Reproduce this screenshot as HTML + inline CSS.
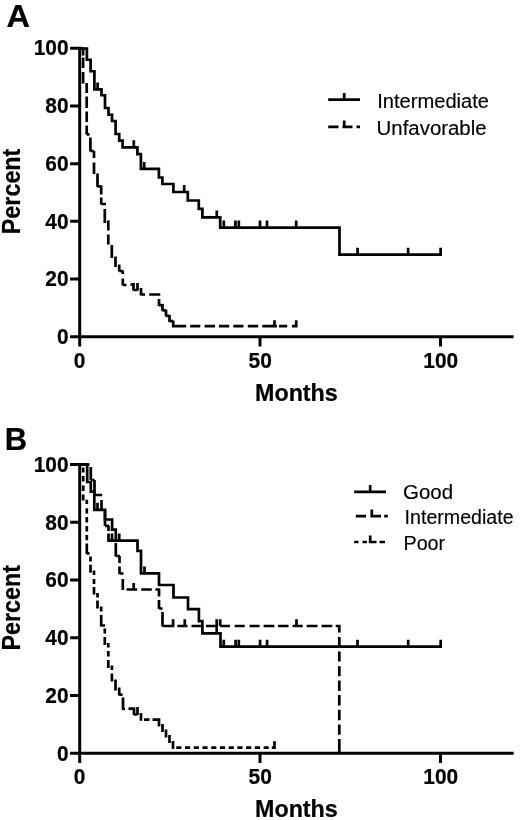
<!DOCTYPE html>
<html><head><meta charset="utf-8"><title>Survival curves</title>
<style>
html,body{margin:0;padding:0;background:#fff;}
body{width:520px;height:820px;overflow:hidden;font-family:"Liberation Sans", sans-serif;}
svg{display:block;font-family:"Liberation Sans", sans-serif;filter:grayscale(1) blur(0.35px);}
</style></head><body>
<svg width="520" height="820" viewBox="0 0 520 820">
<rect width="520" height="820" fill="#fff"/>
<path d="M79.70 46.80V346.40M70.10 336.70H513.60M70.10 48.30H79.70M70.10 106.00H79.70M70.10 163.70H79.70M70.10 221.30H79.70M70.10 279.00H79.70M260.00 336.70V346.40M440.50 336.70V346.40" stroke="#000" stroke-width="3.00" fill="none" />
<path d="M80.00 48.50L86.90 48.50L86.90 59.75L90.60 59.75L90.60 71.25L94.40 71.25L94.40 89.40L101.50 89.40L101.50 95.25L105.00 95.25L105.00 108.00L108.50 108.00L108.50 114.75L112.00 114.75L112.00 121.00L115.60 121.00L115.60 134.00L119.20 134.00L119.20 140.60L122.60 140.60L122.60 147.30L137.40 147.30L137.40 154.20L140.90 154.20L140.90 168.90L158.90 168.90L158.90 177.50L162.40 177.50L162.40 184.00L173.40 184.00L173.40 192.00L187.80 192.00L187.80 200.50L198.80 200.50L198.80 208.80L202.40 208.80L202.40 217.40L220.20 217.40L220.20 227.60L339.50 227.60L339.50 254.70L440.60 254.70V247.7M97.60 89.40V82.40M133.80 147.30V140.30M144.20 168.90V161.90M184.20 192.00V185.00M216.80 217.40V210.40M223.80 227.60V220.60M235.40 227.60V220.60M238.80 227.60V220.60M260.00 227.60V220.60M267.00 227.60V220.60M296.20 227.60V220.60M357.60 254.70V247.70M408.10 254.70V247.70" stroke="#000" stroke-width="2.70" fill="none" />
<path d="M83.10 48.50V55.50M83.10 57.50V68.00M83.10 72.00V83.50M86.70 83.00V93.00M86.70 96.50V108.00M86.70 111.50V122.00M86.70 125.50V134.50M90.40 137.50V151.50M94.00 151.00V158.00M94.00 162.50V174.00M97.50 173.50V187.00M101.20 185.50V194.50M101.20 197.50V204.50M104.80 209.00V223.00M108.30 220.50V230.50M108.30 234.50V244.50M111.80 245.00V258.00M115.50 256.50V267.00M119.20 264.50V271.50M122.80 271.00V274.00M122.80 278.50V285.50M133.50 283.00V290.50M137.50 283.00V290.50M141.00 288.00V295.50M159.00 299.00V306.00M162.50 304.00V311.00M166.00 309.50V316.50M169.50 315.00V322.00M173.20 320.50V327.50M274.50 320.20V327.50M296.20 320.20V327.50M80.00 48.50H84.40M86.70 134.40H89.50M90.40 151.00H94.00M97.50 186.30H101.20M101.20 204.00H106.00M119.20 271.00H123.50M122.80 285.00H126.50M130.50 284.70H133.50M133.50 290.00H137.50M141.00 294.50H145.00M149.20 294.50H160.30M159.00 305.20H162.50M162.50 310.40H166.00M166.00 315.80H169.50M169.50 321.20H173.20M173.20 326.20H186.20M190.20 326.20H200.30M204.60 326.20H215.10M218.90 326.20H229.20M233.30 326.20H243.50M247.80 326.20H258.20M262.30 326.20H277.00M279.10 326.20H287.20M291.90 326.20H297.50" stroke="#000" stroke-width="2.70" fill="none" />
<path d="M79.70 463.00V762.90M70.10 753.20H513.60M70.10 464.50H79.70M70.10 522.20H79.70M70.10 580.00H79.70M70.10 637.70H79.70M70.10 695.50H79.70M260.00 753.20V762.90M440.50 753.20V762.90" stroke="#000" stroke-width="3.00" fill="none" />
<path d="M80.00 464.50L87.20 464.50L87.20 482.00L90.80 482.00L90.80 491.70L94.30 491.70L94.30 509.80L105.00 509.80L105.00 519.50L112.10 519.50L112.10 529.70L115.80 529.70L115.80 540.60L137.50 540.60L137.50 550.80L141.00 550.80L141.00 573.40L159.00 573.40L159.00 585.00L173.50 585.00L173.50 597.50L188.00 597.50L188.00 609.20L198.90 609.20L198.90 621.20L202.40 621.20L202.40 633.40L220.50 633.40L220.50 646.70L440.70 646.70V639.7M97.50 509.80V502.80M119.20 540.60V533.60M144.50 573.40V566.40M216.70 633.40V626.40M223.80 646.70V639.70M235.60 646.70V639.70M238.80 646.70V639.70M260.10 646.70V639.70M267.10 646.70V639.70M357.50 646.70V639.70M408.20 646.70V639.70" stroke="#000" stroke-width="2.70" fill="none" />
<path d="M90.80 467.00V480.00M94.50 480.00V495.00M101.50 500.00V509.80M105.00 509.80V526.00M108.50 525.80V531.00M108.50 533.50V541.00M112.00 533.50V540.60M115.80 543.00V556.50M119.50 556.00V563.00M119.50 566.50V574.00M122.80 579.00V590.00M133.70 583.00V589.50M159.00 589.50V596.50M159.00 600.00V609.00M162.50 612.00V626.50M173.10 619.20V626.00M184.80 619.20V626.00M216.70 619.20V627.00M220.20 619.20V626.00M296.50 619.20V626.00M339.30 626.00V632.40M339.30 637.00V647.20M339.30 651.60V661.60M339.30 666.20V676.30M339.30 680.50V690.90M339.30 695.10V705.50M339.30 709.70V720.20M339.30 724.40V734.80M339.30 739.00V753.00M80.00 464.50H89.50M90.80 480.00H94.50M94.50 495.00H102.20M105.00 525.90H109.00M107.15 540.60H116.00M115.80 556.00H120.00M119.50 573.50H123.50M126.50 589.50H137.20M141.20 589.50H151.80M155.50 589.50H160.30M159.00 608.50H162.50M162.50 626.00H174.40M177.40 626.00H187.50M191.50 626.00H201.60M206.00 626.00H216.40M220.00 626.00H229.90M234.60 626.00H244.70M249.50 626.00H259.60M263.60 626.00H274.40M278.00 626.00H288.50M292.50 626.00H302.70M306.70 626.00H317.50M321.50 626.00H332.30M335.70 626.00H340.60" stroke="#000" stroke-width="2.70" fill="none" />
<path d="M83.20 467.50V472.50M83.20 476.00V481.50M83.20 485.50V491.00M83.20 494.50V500.50M86.80 499.70V504.00M86.80 508.20V513.60M86.80 517.10V522.50M86.80 526.00V531.40M86.80 535.00V540.20M86.80 543.50V554.00M90.50 556.50V561.50M90.50 564.80V572.80M94.00 570.50V575.00M94.00 579.00V584.00M94.00 587.00V594.50M97.50 593.00V597.50M97.50 600.50V608.50M101.20 606.50V611.50M101.20 615.00V626.50M104.80 628.50V633.50M104.80 637.00V645.00M108.30 643.00V647.50M108.30 651.00V656.50M108.30 660.00V668.00M111.90 665.50V670.00M111.90 673.50V681.50M115.50 679.50V690.50M119.20 687.50V695.50M123.00 697.50V710.00M134.00 707.50V715.00M137.50 707.00V715.00M141.00 713.00V720.80M159.00 719.50V726.50M162.50 724.00V732.00M166.00 729.50V737.50M169.50 735.00V743.00M173.00 741.00V749.00M274.50 741.20V749.00M80.00 464.50H84.50M86.80 553.40H89.50M101.20 625.50H105.00M119.20 694.60H122.50M123.00 709.00H125.00M128.50 708.70H134.50M134.00 714.50H137.50M144.00 719.60H149.50M152.50 719.60H160.30M173.00 747.70H174.30M176.30 747.70H181.40M185.03 747.70H190.13M193.76 747.70H198.86M202.49 747.70H207.59M211.22 747.70H216.32M219.95 747.70H225.05M228.68 747.70H233.78M237.41 747.70H242.51M246.14 747.70H251.24M254.87 747.70H259.97M263.60 747.70H268.70M271.80 747.70H275.80" stroke="#000" stroke-width="2.70" fill="none" />
<text transform="translate(68.60 55.40) scale(0.950 1)" font-size="22.00" font-weight="bold" text-anchor="end" stroke="#000" stroke-width="0.22">100</text><text transform="translate(68.60 113.15) scale(0.950 1)" font-size="22.00" font-weight="bold" text-anchor="end" stroke="#000" stroke-width="0.22">80</text><text transform="translate(68.60 170.90) scale(0.950 1)" font-size="22.00" font-weight="bold" text-anchor="end" stroke="#000" stroke-width="0.22">60</text><text transform="translate(68.60 228.65) scale(0.950 1)" font-size="22.00" font-weight="bold" text-anchor="end" stroke="#000" stroke-width="0.22">40</text><text transform="translate(68.60 286.40) scale(0.950 1)" font-size="22.00" font-weight="bold" text-anchor="end" stroke="#000" stroke-width="0.22">20</text><text transform="translate(68.60 344.15) scale(0.950 1)" font-size="22.00" font-weight="bold" text-anchor="end" stroke="#000" stroke-width="0.22">0</text>
<text transform="translate(68.60 471.80) scale(0.950 1)" font-size="22.00" font-weight="bold" text-anchor="end" stroke="#000" stroke-width="0.22">100</text><text transform="translate(68.60 529.50) scale(0.950 1)" font-size="22.00" font-weight="bold" text-anchor="end" stroke="#000" stroke-width="0.22">80</text><text transform="translate(68.60 587.30) scale(0.950 1)" font-size="22.00" font-weight="bold" text-anchor="end" stroke="#000" stroke-width="0.22">60</text><text transform="translate(68.60 645.00) scale(0.950 1)" font-size="22.00" font-weight="bold" text-anchor="end" stroke="#000" stroke-width="0.22">40</text><text transform="translate(68.60 702.80) scale(0.950 1)" font-size="22.00" font-weight="bold" text-anchor="end" stroke="#000" stroke-width="0.22">20</text><text transform="translate(68.60 760.65) scale(0.950 1)" font-size="22.00" font-weight="bold" text-anchor="end" stroke="#000" stroke-width="0.22">0</text>
<text transform="translate(79.60 367.60) scale(0.950 1)" font-size="22.00" font-weight="bold" text-anchor="middle" stroke="#000" stroke-width="0.22">0</text>
<text transform="translate(260.20 367.60) scale(0.950 1)" font-size="22.00" font-weight="bold" text-anchor="middle" stroke="#000" stroke-width="0.22">50</text>
<text transform="translate(440.80 367.60) scale(0.950 1)" font-size="22.00" font-weight="bold" text-anchor="middle" stroke="#000" stroke-width="0.22">100</text>
<text transform="translate(79.60 784.20) scale(0.950 1)" font-size="22.00" font-weight="bold" text-anchor="middle" stroke="#000" stroke-width="0.22">0</text>
<text transform="translate(260.20 784.20) scale(0.950 1)" font-size="22.00" font-weight="bold" text-anchor="middle" stroke="#000" stroke-width="0.22">50</text>
<text transform="translate(440.80 784.20) scale(0.950 1)" font-size="22.00" font-weight="bold" text-anchor="middle" stroke="#000" stroke-width="0.22">100</text>
<text transform="translate(255.00 400.90) scale(1.000 1)" font-size="24.30" font-weight="bold" text-anchor="start" stroke="#000" stroke-width="0.22" textLength="82.8" lengthAdjust="spacingAndGlyphs">Months</text>
<text transform="translate(255.00 817.40) scale(1.000 1)" font-size="24.30" font-weight="bold" text-anchor="start" stroke="#000" stroke-width="0.22" textLength="82.8" lengthAdjust="spacingAndGlyphs">Months</text>
<text transform="translate(19.9 234.2) rotate(-90)" font-size="25.2" font-weight="bold" stroke="#000" stroke-width="0.22" textLength="85.6" lengthAdjust="spacingAndGlyphs">Percent</text>
<text transform="translate(19.9 650.6) rotate(-90)" font-size="25.2" font-weight="bold" stroke="#000" stroke-width="0.22" textLength="85.6" lengthAdjust="spacingAndGlyphs">Percent</text>
<text transform="translate(6.50 27.30) scale(1.050 1)" font-size="31.00" font-weight="bold" text-anchor="start" stroke="#000" stroke-width="0.22">A</text>
<text transform="translate(4.80 449.60) scale(1.000 1)" font-size="31.00" font-weight="bold" text-anchor="start" stroke="#000" stroke-width="0.22">B</text>
<path d="M328.2 99.7H360M344.2 99.7V93" stroke="#000" stroke-width="2.70" fill="none" />
<path d="M328.2 126.8H338.5M342.5 126.8H352.5M356.5 126.8H360M344.2 126.8V120.5" stroke="#000" stroke-width="2.70" fill="none" />
<text transform="translate(377.20 107.50) scale(1.000 1)" font-size="19.60" font-weight="normal" text-anchor="start" stroke="#000" stroke-width="0.15" textLength="111.8" lengthAdjust="spacingAndGlyphs">Intermediate</text>
<text transform="translate(376.60 135.00) scale(1.000 1)" font-size="19.60" font-weight="normal" text-anchor="start" stroke="#000" stroke-width="0.15" textLength="110.0" lengthAdjust="spacingAndGlyphs">Unfavorable</text>
<path d="M354.2 491.8H386M370.2 491.8V485" stroke="#000" stroke-width="2.70" fill="none" />
<path d="M355.8 516.2H366M370.4 516.2H381M384.2 516.2H387.8M371.8 516.2V509.5" stroke="#000" stroke-width="2.70" fill="none" />
<path d="M354.2 542H358.5M362.5 542H367M368.8 542H376.5M379.5 542H385M370.2 542V535.5" stroke="#000" stroke-width="2.70" fill="none" />
<text transform="translate(403.00 499.20) scale(1.000 1)" font-size="19.60" font-weight="normal" text-anchor="start" stroke="#000" stroke-width="0.15" textLength="50.0" lengthAdjust="spacingAndGlyphs">Good</text>
<text transform="translate(404.60 524.00) scale(1.000 1)" font-size="19.60" font-weight="normal" text-anchor="start" stroke="#000" stroke-width="0.15" textLength="109.0" lengthAdjust="spacingAndGlyphs">Intermediate</text>
<text transform="translate(403.50 550.00) scale(1.000 1)" font-size="19.60" font-weight="normal" text-anchor="start" stroke="#000" stroke-width="0.15" textLength="41.6" lengthAdjust="spacingAndGlyphs">Poor</text>
</svg>
</body></html>
